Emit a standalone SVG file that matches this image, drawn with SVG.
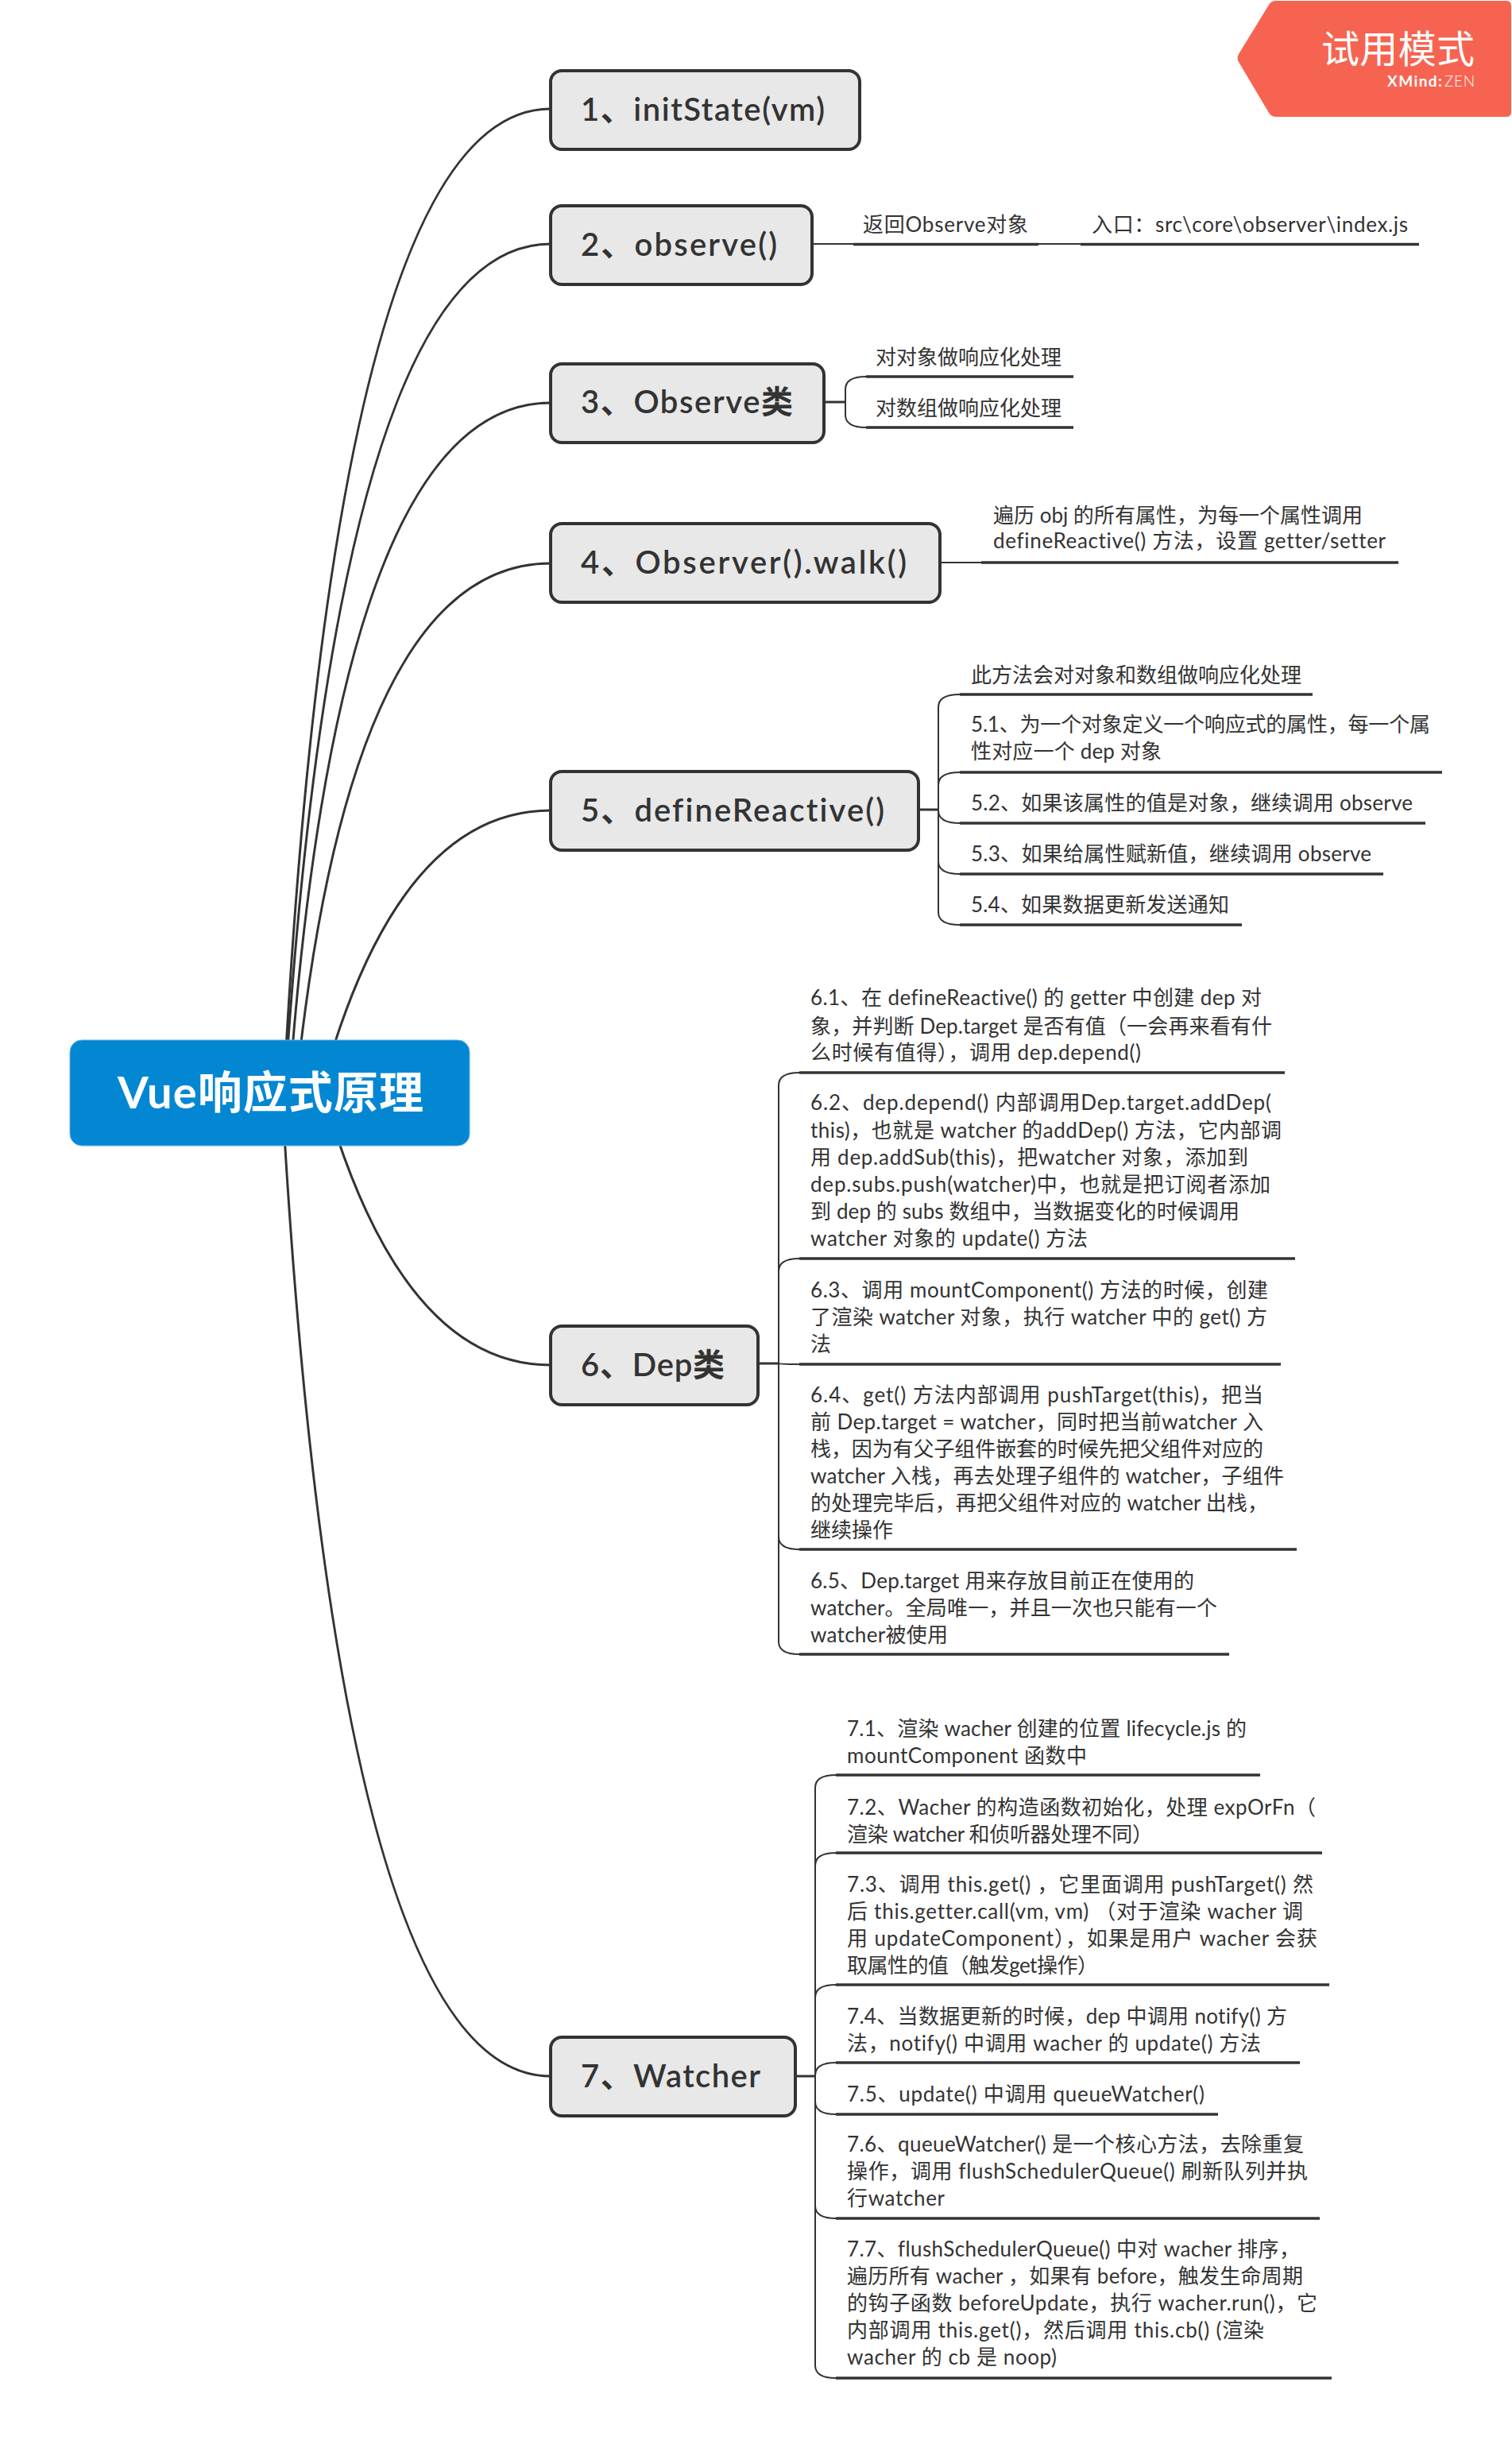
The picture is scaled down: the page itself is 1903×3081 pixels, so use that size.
<svg xmlns="http://www.w3.org/2000/svg" width="1903" height="3081" viewBox="0 0 1903 3081">
<style>
text{font-family:"Lato","Noto Sans CJK SC",sans-serif;fill:#333;font-variant-ligatures:none}
.m{font-size:40px;font-weight:600}
.s{font-size:26px;font-weight:400}
.box{fill:#e8e8e8;stroke:#333;stroke-width:4}
.c{fill:none;stroke:#333;stroke-width:3}
.t{fill:none;stroke:#333;stroke-width:2}
.u{fill:none;stroke:#333;stroke-width:3.5}
</style>
<rect width="1903" height="3081" fill="#fff"/>
<g id="connectors">
<path class="c" d="M360 1320Q428 137 693 137"/>
<path class="c" d="M362 1320Q433 307 693 307"/>
<path class="c" d="M368 1320Q435 507 693 507"/>
<path class="c" d="M378 1320Q450 709 693 709"/>
<path class="c" d="M419 1320Q514 1020 693 1020"/>
<path class="c" d="M424 1430Q520 1718 693 1718"/>
<path class="c" d="M358 1430Q430 2613 693 2613"/>
<path class="t" d="M1022 307H1074M1307 307H1360"/>
<path class="c" d="M1037 506H1064"/>
<path class="t" d="M1064 506V490Q1064 474 1090 474M1064 506V522Q1064 538 1090 538"/>
<path class="t" d="M1183 708H1235"/>
<path class="c" d="M1156 1019H1181"/>
<path class="t" d="M1181 1019V890Q1181 874 1208 874M1181 1019V988Q1181 972 1208 972M1181 1019V1020Q1181 1036 1208 1036M1181 1019V1084Q1181 1100 1208 1100M1181 1019V1148Q1181 1164 1208 1164"/>
<path class="c" d="M954 1716H980"/>
<path class="t" d="M980 1716V1366Q980 1350 1006 1350M980 1716V1600Q980 1584 1006 1584M980 1716Q980 1717 1006 1717M980 1716V1934Q980 1950 1006 1950M980 1716V2066Q980 2082 1006 2082"/>
<path class="c" d="M1001 2613H1026"/>
<path class="t" d="M1026 2613V2250Q1026 2234 1052 2234M1026 2613V2348Q1026 2332 1052 2332M1026 2613V2514Q1026 2498 1052 2498M1026 2613V2612Q1026 2596 1052 2596M1026 2613V2645Q1026 2661 1052 2661M1026 2613V2776Q1026 2792 1052 2792M1026 2613V2977Q1026 2993 1052 2993"/>
</g>
<g id="root"><rect x="88" y="1309" width="503" height="133" rx="15" fill="#0487d3" stroke="#5cb3e4" stroke-width="1"/><text x="148" y="1395" font-size="56" font-weight="700" textLength="385" style="fill:#fff">Vue响应式原理</text></g>
<g id="badge"><path d="M1606 1H1896Q1902 1 1902 7V141Q1902 147 1896 147H1606Q1600 147 1597 142L1559 78Q1556 73 1559 68L1597 6Q1600 1 1606 1Z" fill="#f66451"/><text x="1663" y="79" font-size="48" textLength="193" style="fill:#fff">试用模式</text><text x="1746" y="109" font-size="19" font-weight="700" textLength="69" style="fill:#fff">XMind:</text><text x="1818" y="109" font-size="19" font-weight="300" textLength="38" style="fill:#fff">ZEN</text></g>
<g id="n1"><rect class="box" x="693" y="89" width="389" height="99" rx="14"/><text class="m" x="731" y="152" textLength="307">1、initState(vm)</text></g>
<g id="n2"><rect class="box" x="693" y="259" width="329" height="99" rx="14"/><text class="m" x="731" y="322" textLength="247">2、observe()</text></g>
<g id="n2-1"><text class="s" x="1086" y="292" textLength="208">返回Observe对象</text><path class="u" d="M1074 307.500H1307"/></g>
<g id="n2-2"><text class="s" x="1374" y="292" textLength="398">入口：src\core\observer\index.js</text><path class="u" d="M1360 307.500H1786"/></g>
<g id="n3"><rect class="box" x="693" y="458" width="344" height="99" rx="14"/><text class="m" x="731" y="520" textLength="267">3、Observe类</text></g>
<g id="n3-1"><text class="s" x="1102" y="459">对对象做响应化处理</text><path class="u" d="M1090 474H1351"/></g>
<g id="n3-2"><text class="s" x="1102" y="523">对数组做响应化处理</text><path class="u" d="M1090 538H1351"/></g>
<g id="n4"><rect class="box" x="693" y="659" width="490" height="99" rx="14"/><text class="m" x="731" y="722" textLength="410">4、Observer().walk()</text></g>
<g id="n4-1"><text class="s" x="1250" y="658" textLength="465">遍历 obj 的所有属性，为每一个属性调用</text><text class="s" x="1250" y="690" textLength="494">defineReactive() 方法，设置 getter/setter</text><path class="u" d="M1235 708H1760"/></g>
<g id="n5"><rect class="box" x="693" y="971" width="463" height="99" rx="14"/><text class="m" x="731" y="1034" textLength="382">5、defineReactive()</text></g>
<g id="n5-0"><text class="s" x="1222" y="859">此方法会对对象和数组做响应化处理</text><path class="u" d="M1208 874H1652"/></g>
<g id="n5-1"><text class="s" x="1222" y="921" textLength="578">5.1、为一个对象定义一个响应式的属性，每一个属</text><text class="s" x="1222" y="955" textLength="240">性对应一个 dep 对象</text><path class="u" d="M1208 972H1815"/></g>
<g id="n5-2"><text class="s" x="1222" y="1020" textLength="556">5.2、如果该属性的值是对象，继续调用 observe</text><path class="u" d="M1208 1036H1794"/></g>
<g id="n5-3"><text class="s" x="1222" y="1084" textLength="504">5.3、如果给属性赋新值，继续调用 observe</text><path class="u" d="M1208 1100H1741"/></g>
<g id="n5-4"><text class="s" x="1222" y="1148" textLength="325">5.4、如果数据更新发送通知</text><path class="u" d="M1208 1164H1563"/></g>
<g id="n6"><rect class="box" x="693" y="1669" width="261" height="99" rx="14"/><text class="m" x="731" y="1732" textLength="181">6、Dep类</text></g>
<g id="n6-1"><text class="s" x="1020" y="1265" textLength="568">6.1、在 defineReactive() 的 getter 中创建 dep 对</text><text class="s" x="1020" y="1301" textLength="581">象，并判断 Dep.target 是否有值（一会再来看有什</text><text class="s" x="1020" y="1334" textLength="416">么时候有值得），调用 dep.depend()</text><path class="u" d="M1006 1350H1617"/></g>
<g id="n6-2"><text class="s" x="1020" y="1397" textLength="580">6.2、dep.depend() 内部调用Dep.target.addDep(</text><text class="s" x="1020" y="1432" textLength="593">this)，也就是 watcher 的addDep() 方法，它内部调</text><text class="s" x="1020" y="1466" textLength="551">用 dep.addSub(this)，把watcher 对象，添加到</text><text class="s" x="1020" y="1500" textLength="579">dep.subs.push(watcher)中，也就是把订阅者添加</text><text class="s" x="1020" y="1534" textLength="540">到 dep 的 subs 数组中，当数据变化的时候调用</text><text class="s" x="1020" y="1568" textLength="349">watcher 对象的 update() 方法</text><path class="u" d="M1006 1584H1630"/></g>
<g id="n6-3"><text class="s" x="1020" y="1633" textLength="576">6.3、调用 mountComponent() 方法的时候，创建</text><text class="s" x="1020" y="1667" textLength="575">了渲染 watcher 对象，执行 watcher 中的 get() 方</text><text class="s" x="1020" y="1701">法</text><path class="u" d="M1006 1717H1612"/></g>
<g id="n6-4"><text class="s" x="1020" y="1765" textLength="570">6.4、get() 方法内部调用 pushTarget(this)，把当</text><text class="s" x="1020" y="1799" textLength="570">前 Dep.target = watcher，同时把当前watcher 入</text><text class="s" x="1020" y="1833" textLength="570">栈，因为有父子组件嵌套的时候先把父组件对应的</text><text class="s" x="1020" y="1867" textLength="596">watcher 入栈，再去处理子组件的 watcher，子组件</text><text class="s" x="1020" y="1901" textLength="576">的处理完毕后，再把父组件对应的 watcher 出栈，</text><text class="s" x="1020" y="1935">继续操作</text><path class="u" d="M1006 1950H1632"/></g>
<g id="n6-5"><text class="s" x="1020" y="1999" textLength="483">6.5、Dep.target 用来存放目前正在使用的</text><text class="s" x="1020" y="2033" textLength="512">watcher。全局唯一，并且一次也只能有一个</text><text class="s" x="1020" y="2067" textLength="173">watcher被使用</text><path class="u" d="M1006 2082H1547"/></g>
<g id="n7"><rect class="box" x="693" y="2564" width="308" height="99" rx="14"/><text class="m" x="731" y="2627" textLength="226">7、Watcher</text></g>
<g id="n7-1"><text class="s" x="1066" y="2185" textLength="503">7.1、渲染 wacher 创建的位置 lifecycle.js 的</text><text class="s" x="1066" y="2219" textLength="302">mountComponent 函数中</text><path class="u" d="M1052 2234H1586"/></g>
<g id="n7-2"><text class="s" x="1066" y="2284" textLength="590">7.2、Wacher 的构造函数初始化，处理 expOrFn（</text><text class="s" x="1066" y="2318" textLength="385">渲染 watcher 和侦听器处理不同）</text><path class="u" d="M1052 2332H1664"/></g>
<g id="n7-3"><text class="s" x="1066" y="2381" textLength="587">7.3、调用 this.get() ，它里面调用 pushTarget() 然</text><text class="s" x="1066" y="2415" textLength="574">后 this.getter.call(vm, vm) （对于渲染 wacher 调</text><text class="s" x="1066" y="2449" textLength="592">用 updateComponent），如果是用户 wacher 会获</text><text class="s" x="1066" y="2483" textLength="316">取属性的值（触发get操作）</text><path class="u" d="M1052 2498H1673"/></g>
<g id="n7-4"><text class="s" x="1066" y="2547" textLength="554">7.4、当数据更新的时候，dep 中调用 notify() 方</text><text class="s" x="1066" y="2581" textLength="521">法，notify() 中调用 wacher 的 update() 方法</text><path class="u" d="M1052 2596H1636"/></g>
<g id="n7-5"><text class="s" x="1066" y="2645" textLength="450">7.5、update() 中调用 queueWatcher()</text><path class="u" d="M1052 2661H1533"/></g>
<g id="n7-6"><text class="s" x="1066" y="2708" textLength="575">7.6、queueWatcher() 是一个核心方法，去除重复</text><text class="s" x="1066" y="2742" textLength="580">操作，调用 flushSchedulerQueue() 刷新队列并执</text><text class="s" x="1066" y="2776" textLength="123">行watcher</text><path class="u" d="M1052 2792H1661"/></g>
<g id="n7-7"><text class="s" x="1066" y="2840" textLength="570">7.7、flushSchedulerQueue() 中对 wacher 排序，</text><text class="s" x="1066" y="2874" textLength="574">遍历所有 wacher ，如果有 before，触发生命周期</text><text class="s" x="1066" y="2908" textLength="592">的钩子函数 beforeUpdate，执行 wacher.run()，它</text><text class="s" x="1066" y="2942" textLength="525">内部调用 this.get()，然后调用 this.cb() (渲染</text><text class="s" x="1066" y="2976" textLength="264">wacher 的 cb 是 noop)</text><path class="u" d="M1052 2993H1676"/></g>
</svg>
